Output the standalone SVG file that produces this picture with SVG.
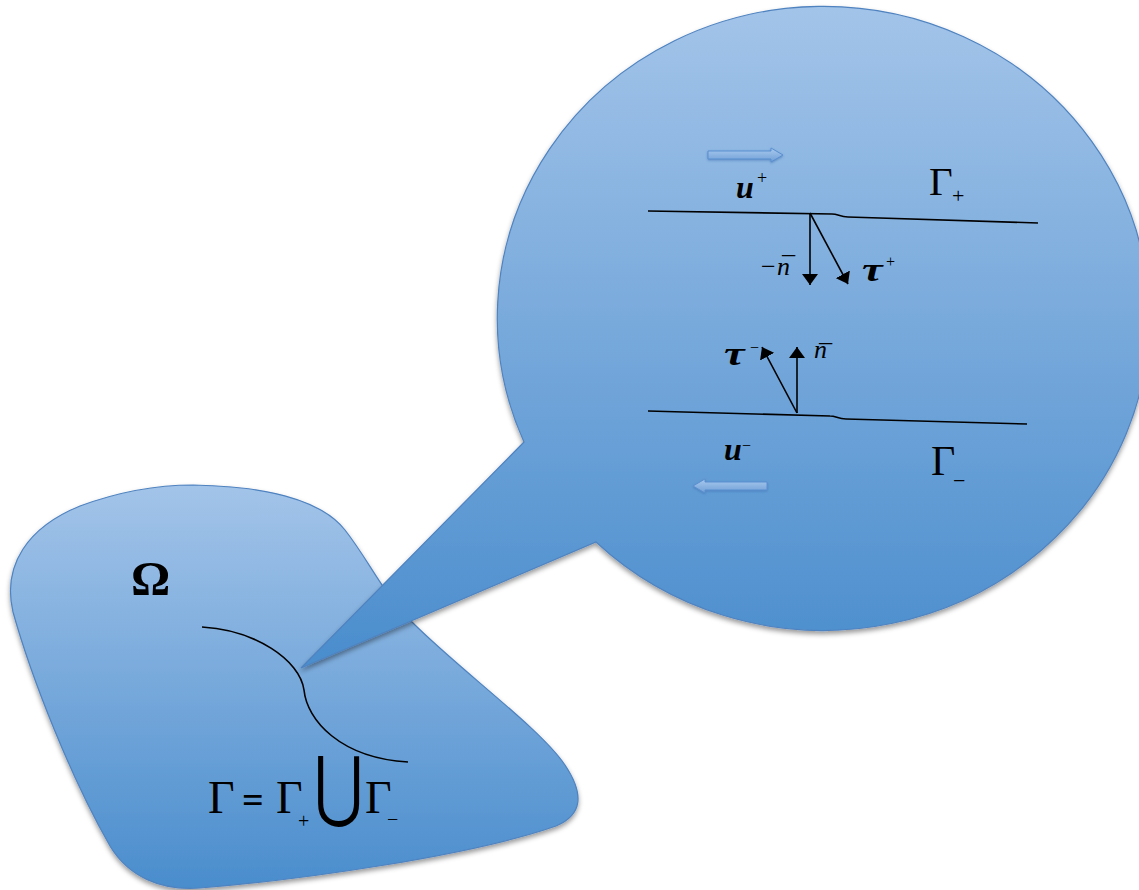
<svg xmlns="http://www.w3.org/2000/svg" width="1139" height="890" viewBox="0 0 1139 890">
<defs>
<linearGradient id="fillGrad" x1="0" y1="0" x2="0" y2="1">
<stop offset="0" stop-color="#a3c4e9"/>
<stop offset="1" stop-color="#4a8dcd"/>
</linearGradient>
<linearGradient id="flowGrad" x1="0" y1="0" x2="0" y2="1">
<stop offset="0" stop-color="#a9c9ee"/>
<stop offset="1" stop-color="#6f9fd6"/>
</linearGradient>
<filter id="shadow" x="-10%" y="-10%" width="120%" height="120%">
<feDropShadow dx="0" dy="3" stdDeviation="2.5" flood-color="#000" flood-opacity="0.4"/>
</filter>
<filter id="soft" x="-20%" y="-50%" width="140%" height="200%">
<feDropShadow dx="0" dy="1" stdDeviation="1" flood-color="#3d6fae" flood-opacity="0.6"/>
</filter>
<marker id="head" viewBox="0 0 11 16" refX="11" refY="8" markerWidth="11" markerHeight="16" markerUnits="userSpaceOnUse" orient="auto">
<path d="M0,0 L11,8 L0,16 Z" fill="#000"/>
</marker>
</defs>
<style>
.shape{fill:url(#fillGrad);stroke:#4f83c0;stroke-width:1.2;filter:url(#shadow)}
.curve{fill:none;stroke:#000;stroke-width:1.6}
.vec{fill:none;stroke:#000;stroke-width:1.6;marker-end:url(#head)}
.flow{fill:url(#flowGrad);stroke:#5b8fd0;stroke-width:1;filter:url(#soft)}
.t{font-family:"Liberation Serif","Times New Roman",serif;fill:#000}
.it{font-style:italic;font-weight:bold}
.up{font-style:normal;font-weight:normal}
.sym{font-family:"DejaVu Serif","Liberation Serif",serif;fill:#000}
</style>
<rect width="1139" height="890" fill="#fff"/>

<g id="domain">
<path class="shape" d="M193,485 C260,486 320,498 345,530 C370,562 382,592 412,622 C462,672 540,728 565,765 C585,795 582,815 556,826 C470,856 300,880 200,888 C160,891 128,876 110,846 C72,780 32,680 13,612 C2,565 28,527 80,506 C118,492 158,485 193,485 Z"/>
<text class="t" x="131" y="595" font-size="49" font-weight="bold">Ω</text>
<path class="curve" d="M202,627 C255,630 300,660 304,690 C307,720 340,758 408,762"/>
<g id="equation">
<text class="t" x="208" y="813" font-size="46">Γ<tspan x="242" font-size="38" font-weight="bold">=</tspan><tspan x="276">Γ</tspan><tspan x="298" y="828" font-size="20">+</tspan></text>
<text class="sym" font-size="60" transform="translate(314,812) scale(1,1.3)">⋃</text>
<text class="t" x="365" y="813" font-size="46">Γ<tspan x="387" y="826" font-size="20">−</tspan></text>
</g>
</g>

<g id="bubble">
<path class="shape" d="M524,442 A326,312 0 1 1 596,542 L301,668 Z"/>
</g>

<g id="flow-arrows">
<path class="flow" d="M708,151 L771,151 L771,148 L783,155 L771,162 L771,159 L708,159 Z"/>
<path class="flow" d="M767,482 L705,482 L705,479 L693,486 L705,493 L705,490 L767,490 Z"/>
</g>

<g id="interface-plus">
<path class="curve" d="M648,211 L832,214 C838,214 840,217 848,217 L1038,223"/>
<text class="t it" x="736" y="198" font-size="32">u<tspan class="up" x="757" y="184" font-size="18">+</tspan></text>
<text class="t" x="929" y="195" font-size="41">Γ<tspan x="952" y="203" font-size="22">+</tspan></text>
<text class="t" x="761" y="275" font-size="26">−<tspan x="777" font-style="italic">n</tspan><tspan x="780" y="274" font-style="italic">¯</tspan></text>
<text class="t it" font-size="33" transform="translate(862,281) scale(1.4,1)">τ</text>
<text class="t" x="886" y="267" font-size="16">+</text>
</g>

<g id="interface-minus">
<path class="curve" d="M648,411 L830,416 C836,416 838,419 846,419 L1027,424"/>
<text class="t it" font-size="33" transform="translate(724,365) scale(1.4,1)">τ</text>
<text class="t" x="750" y="353" font-size="16">−</text>
<text class="t" x="814" y="358" font-size="26" font-style="italic">n<tspan x="817" y="362">¯</tspan></text>
<text class="t it" x="724" y="460" font-size="32">u<tspan class="up" x="742" y="451" font-size="16">−</tspan></text>
<text class="t" x="931" y="475" font-size="42">Γ<tspan x="953" y="488" font-size="22">−</tspan></text>
</g>

<g id="connectors">
<line class="vec" x1="810" y1="213" x2="810" y2="285"/>
<line class="vec" x1="810" y1="213" x2="848" y2="284"/>
<line class="vec" x1="797" y1="413" x2="797" y2="347"/>
<line class="vec" x1="797" y1="413" x2="762" y2="347"/>
</g>
</svg>
